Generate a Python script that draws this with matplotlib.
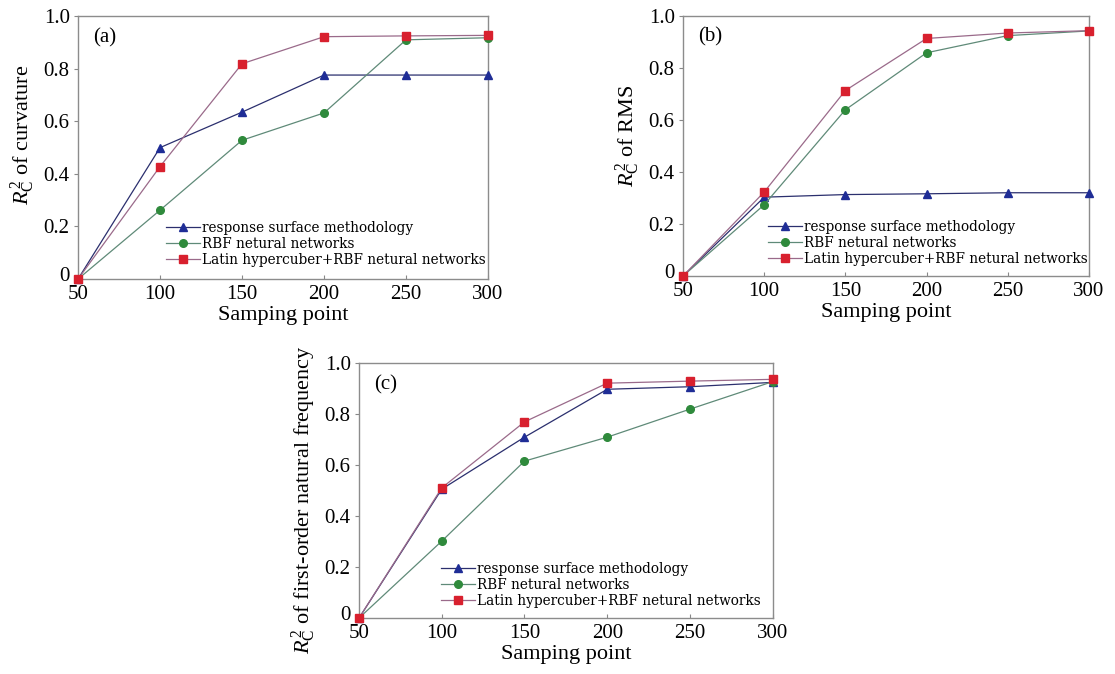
import matplotlib
matplotlib.use("Agg")
import matplotlib.pyplot as plt
import matplotlib.transforms as mtransforms

plt.rcParams['font.family'] = ['Liberation Serif', 'DejaVu Serif']
plt.rcParams['mathtext.fontset'] = 'custom'
plt.rcParams['mathtext.rm'] = 'Liberation Serif'
plt.rcParams['mathtext.it'] = 'Liberation Serif:italic'

x = [50, 100, 150, 200, 250, 300]
xticks = [50, 100, 150, 200, 250, 300]
yticks = [0, 0.2, 0.4, 0.6, 0.8, 1.0]
ytick_labels = ['0', '0.2', '0.4', '0.6', '0.8', '1.0']

series_names = ['response surface methodology', 'RBF netural networks',
                'Latin hypercuber+RBF netural networks']

# (a) curvature
a_rsm = [0, 0.50, 0.635, 0.776, 0.776, 0.776]
a_rbf = [0, 0.262, 0.528, 0.632, 0.910, 0.918]
a_lhs = [0, 0.428, 0.819, 0.922, 0.925, 0.927]

# (b) RMS
b_rsm = [0, 0.303, 0.313, 0.316, 0.320, 0.320]
b_rbf = [0, 0.274, 0.639, 0.858, 0.924, 0.942]
b_lhs = [0, 0.323, 0.713, 0.913, 0.934, 0.943]

# (c) first-order natural frequency
c_rsm = [0, 0.506, 0.710, 0.898, 0.908, 0.925]
c_rbf = [0, 0.302, 0.616, 0.710, 0.820, 0.928]
c_lhs = [0, 0.511, 0.770, 0.922, 0.930, 0.937]

line_colors = ['#2b2f6e', '#5f8a78', '#9a6a8a']
marker_colors = ['#1f2d96', '#2f8a3c', '#d8202e']
markers = ['^', 'o', 's']
msizes = [6, 5.5, 6]

fig = plt.figure(figsize=(11.15, 6.74), dpi=100)

panels = [
    ([0.070, 0.586, 0.3677, 0.390], (a_rsm, a_rbf, a_lhs),
     r'$R_\mathrm{C}^{\,2}$ of curvature', '(a)', (0.995, 0.045), 0.548),
    ([0.6126, 0.5905, 0.364, 0.386], (b_rsm, b_rbf, b_lhs),
     r'$R_\mathrm{C}^{\,2}$ of RMS', '(b)', (0.997, 0.04), 0.538),
    ([0.322, 0.083, 0.371, 0.378], (c_rsm, c_rbf, c_lhs),
     r'$R_\mathrm{C}^{\,2}$ of first-order natural frequency', '(c)', (0.972, 0.04), 0.467),
]

for rect, data, ylabel, tag, leg_anchor, ylab_y in panels:
    ax = fig.add_axes(rect)
    for i, ys in enumerate(data):
        ax.plot(x, ys, color=line_colors[i], lw=0.9, marker=markers[i],
                markersize=msizes[i], markerfacecolor=marker_colors[i],
                markeredgecolor=marker_colors[i], label=series_names[i],
                clip_on=False, zorder=3 + i)
    ax.set_xlim(50, 300)
    ax.set_ylim(0, 1.0)
    ax.set_xticks(xticks)
    ax.set_xticklabels([str(t) for t in xticks])
    ax.set_yticks(yticks)
    ax.set_yticklabels(ytick_labels)
    ax.tick_params(axis='both', labelsize=15, length=3, width=0.8, color='#888888', pad=3)
    ax.tick_params(axis='x', direction='in', pad=4)
    ax.tick_params(axis='y', direction='out')
    # lift the "0" label slightly, as in the reference
    lbl0 = ax.get_yticklabels()[0]
    lbl0.set_transform(lbl0.get_transform() +
                       mtransforms.ScaledTranslation(0, 5 / 100, fig.dpi_scale_trans))
    for s in ax.spines.values():
        s.set_color('#8c8c8c')
        s.set_linewidth(1.0)
    ax.set_xlabel('Samping point', fontsize=16, labelpad=2)
    ax.set_ylabel(ylabel, fontsize=16, labelpad=5)
    ax.yaxis.label.set_y(ylab_y)
    ax.text(0.037, 0.955, tag, transform=ax.transAxes, fontsize=15, va='top', ha='left')
    ax.legend(loc='lower right', bbox_to_anchor=leg_anchor, frameon=False,
              prop={'family': 'DejaVu Serif', 'size': 9.8},
              handlelength=2.5, handletextpad=0.15, labelspacing=0.15, borderpad=0.0,
              borderaxespad=0.0)

fig.savefig('out.png', dpi=100)
